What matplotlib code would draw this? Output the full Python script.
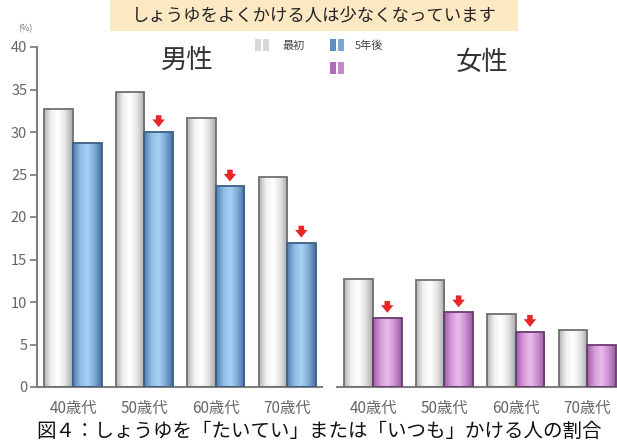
import numpy as np
import matplotlib
matplotlib.use('Agg')
import matplotlib.pyplot as plt
from matplotlib.colors import LinearSegmentedColormap
from matplotlib.patches import Rectangle

plt.rcParams['font.family'] = ['Noto Sans CJK JP', 'DejaVu Sans']

ages = ['40歳代', '50歳代', '60歳代', '70歳代']
men_first = [32.7, 34.7, 31.6, 24.7]
men_after = [28.7, 30.0, 23.6, 17.0]
women_first = [12.7, 12.6, 8.55, 6.7]
women_after = [8.15, 8.8, 6.5, 4.9]
men_arrow = [False, True, True, True]
women_arrow = [True, True, True, False]
yticks = [0, 5, 10, 15, 20, 25, 30, 35, 40]

W, H = 617, 443
fig = plt.figure(figsize=(W / 100, H / 100), dpi=100)

def px(x0, y0, x1, y1):
    # pixel box -> figure fraction rect
    return [x0 / W, 1 - y1 / H, (x1 - x0) / W, (y1 - y0) / H]

gray_cm = LinearSegmentedColormap.from_list('g', ['#b4b4b4', '#f2f2f2', '#ffffff', '#e2e2e2', '#a8a8a8'])
blue_cm = LinearSegmentedColormap.from_list('b', ['#4f7fb0', '#8fbbe4', '#a8d2f4', '#7eaad6', '#45709e'])
pink_cm = LinearSegmentedColormap.from_list('p', ['#a05aa8', '#d49ad8', '#ebbcec', '#cc90d0', '#9a5aa0'])
grad = np.linspace(0, 1, 64).reshape(1, -1)


def shade(ax, bars, cmap):
    for b in bars:
        x0, y0 = b.get_x(), b.get_y()
        im = ax.imshow(grad, cmap=cmap, aspect='auto', zorder=2,
                       extent=(x0, x0 + b.get_width(), y0, y0 + b.get_height()))
        im.set_clip_path(b)


def panel(ax, first, after, arrows, cmap, edge, right):
    x = np.arange(len(ages))
    w = 0.4
    b1 = ax.bar(x - w / 2, first, w, facecolor='none', edgecolor='#707070', linewidth=1.3, zorder=3)
    b2 = ax.bar(x + w / 2, after, w, facecolor='none', edgecolor=edge, linewidth=1.3, zorder=3)
    shade(ax, b1, gray_cm)
    shade(ax, b2, cmap)
    for xi, v, a in zip(x, after, arrows):
        if a:
            ax.annotate('', xy=(xi + w / 2, v + 0.25), xytext=(xi + w / 2, v + 2.3),
                        arrowprops=dict(arrowstyle='simple,head_width=0.9,head_length=0.55,tail_width=0.4',
                                        color='#e8262a', lw=0), zorder=4)
    ax.set_xlim(-0.505, right)
    ax.set_ylim(0, 40)
    ax.set_xticks(x)
    ax.set_xticklabels(ages, fontsize=11, color='#666666')
    ax.tick_params(axis='x', length=0, pad=9)
    for s in ['top', 'right']:
        ax.spines[s].set_visible(False)
    ax.spines['bottom'].set_color('#808080')
    ax.spines['bottom'].set_linewidth(1.5)


ax1 = fig.add_axes(px(37, 47, 322, 387))
panel(ax1, men_first, men_after, men_arrow, blue_cm, '#3d5f85', 3.49)
ax1.set_yticks(yticks)
ax1.set_yticklabels([str(t) for t in yticks], fontsize=10.5, color='#666666')
ax1.tick_params(axis='y', length=5, width=1.3, color='#808080', pad=2)
ax1.spines['left'].set_color('#808080')
ax1.spines['left'].set_linewidth(1.5)

ax2 = fig.add_axes(px(337, 47, 617, 387))
panel(ax2, women_first, women_after, women_arrow, pink_cm, '#6a3c6e', 3.42)
ax2.spines['left'].set_visible(False)
ax2.set_yticks([])

# header box
fig.add_artist(Rectangle((110 / W, 1 - 31 / H), 408 / W, 31 / H, transform=fig.transFigure,
                         facecolor='#fde8c4', edgecolor='none'))
fig.text(314 / W, 1 - 15 / H, 'しょうゆをよくかける人は少なくなっています', fontsize=12.5,
         ha='center', va='center', color='#222222')

fig.text(25 / W, 1 - 29 / H, '(%)', fontsize=6.5, color='#777777', ha='center', va='center')
fig.text(187 / W, 1 - 60 / H, '男性', fontsize=19, color='#333333', ha='center', va='center')
fig.text(482 / W, 1 - 62 / H, '女性', fontsize=19, color='#333333', ha='center', va='center')

# legend
def swatch(x0, y0, c1, c2):
    for dx, c in [(0, c1), (8, c2)]:
        fig.add_artist(Rectangle(((x0 + dx) / W, 1 - (y0 + 12) / H), 6 / W, 12 / H,
                                 transform=fig.transFigure, facecolor=c, edgecolor='none'))

swatch(255, 39, '#d8d8d8', '#d8d8d8')
swatch(330, 39, '#5f8fc0', '#7aa8d8')
swatch(330, 62, '#b06ab8', '#c884cc')
fig.text(282 / W, 1 - 46 / H, '最初', fontsize=8, color='#444444', va='center')
fig.text(355 / W, 1 - 46 / H, '5年後', fontsize=8, color='#444444', va='center')

fig.text(36 / W, 1 - 431 / H, '図４：しょうゆを「たいてい」または「いつも」かける人の割合',
         fontsize=14, color='#111111', ha='left', va='center')

fig.savefig('out.png', dpi=100, facecolor='white')
